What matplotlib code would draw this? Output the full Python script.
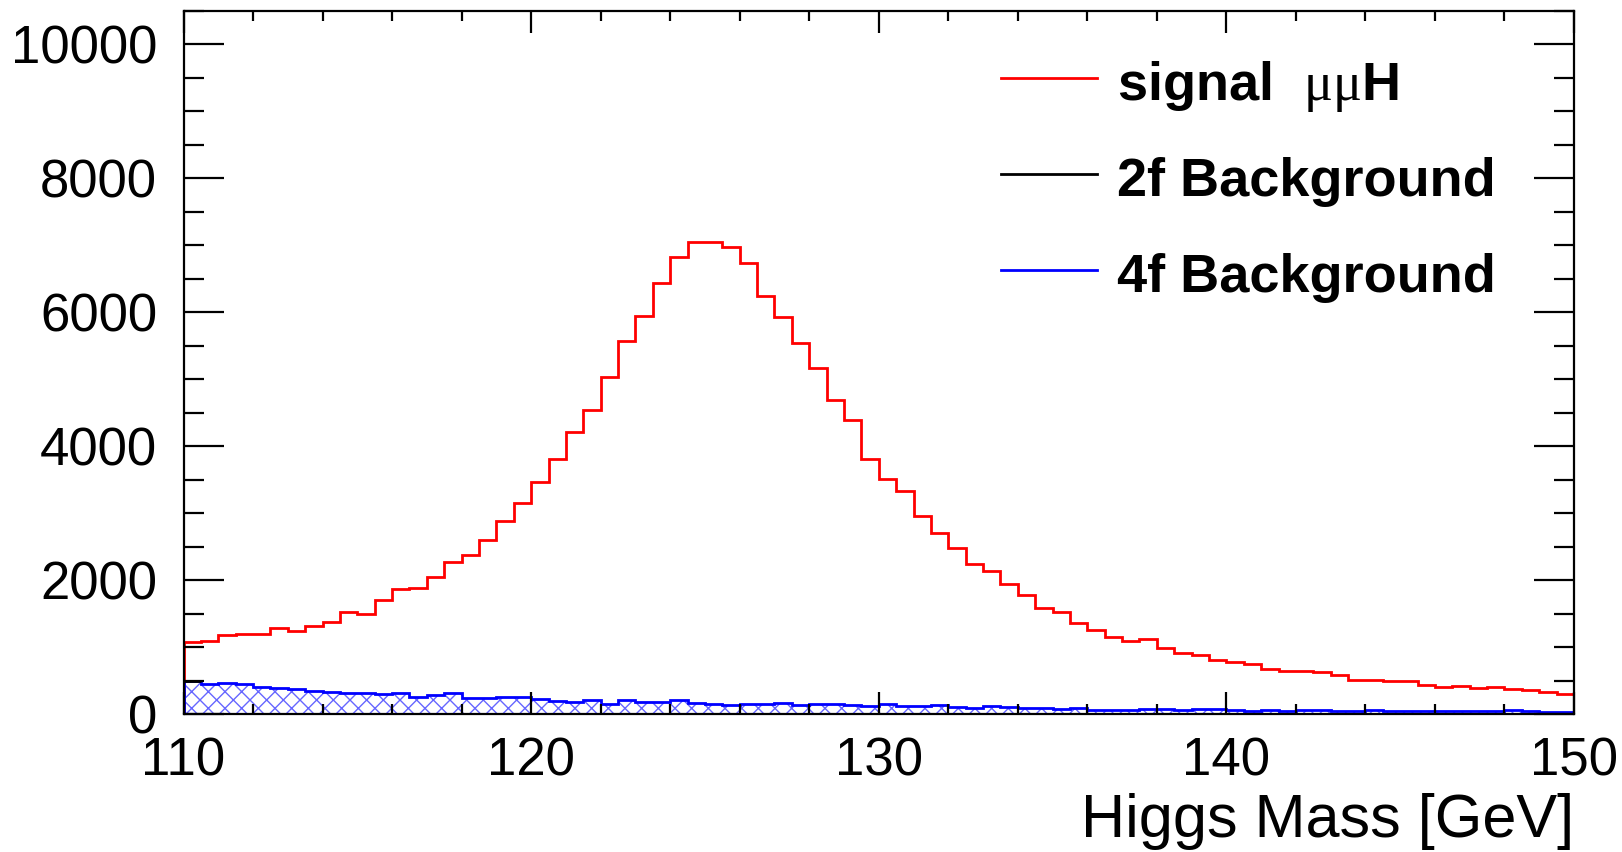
import numpy as np
import matplotlib.pyplot as plt
from matplotlib.ticker import MultipleLocator

# ROOT-like look: Helvetica -> Liberation Sans, Symbol greek -> Liberation Serif
plt.rcParams['font.family'] = 'Liberation Sans'
plt.rcParams['mathtext.fontset'] = 'custom'
plt.rcParams['mathtext.rm'] = 'Liberation Serif'
plt.rcParams['hatch.linewidth'] = 1.0

# Binning: 80 bins of 0.5 GeV between 110 and 150
M_LO, M_HI, N_BINS = 110, 150, 80
edges = np.linspace(M_LO, M_HI, N_BINS + 1)

signal_mumuH = [
    1075, 1095, 1180, 1190, 1190, 1285, 1235, 1320, 1380, 1525,
    1490, 1705, 1870, 1885, 2045, 2275, 2380, 2595, 2880, 3145,
    3460, 3810, 4215, 4535, 5035, 5570, 5950, 6430, 6830, 7055,
    7055, 6980, 6740, 6240, 5935, 5545, 5170, 4695, 4385, 3810,
    3510, 3335, 2960, 2700, 2475, 2240, 2130, 1945, 1780, 1580,
    1530, 1360, 1260, 1145, 1085, 1120, 985, 915, 885, 800,
    775, 745, 675, 645, 645, 620, 585, 515, 515, 500,
    500, 440, 410, 425, 395, 405, 380, 360, 325, 305,
]

bkg_4f = [
    490, 448, 458, 448, 408, 389, 369, 349, 334, 319,
    319, 294, 309, 254, 289, 314, 239, 239, 254, 254,
    219, 194, 174, 204, 154, 204, 174, 174, 204, 159,
    149, 134, 149, 149, 159, 139, 149, 149, 129, 125,
    145, 124, 115, 139, 100, 90, 120, 110, 90, 90,
    75, 95, 60, 60, 60, 75, 70, 60, 75, 75,
    60, 50, 60, 45, 60, 60, 50, 50, 60, 50,
    45, 45, 45, 45, 45, 50, 60, 45, 35, 35,
]

bkg_2f = [490] + [0] * (N_BINS - 1)

legend_labels = ['signal  $\\mathrm{\\mu\\mu}$H', '2f Background', '4f Background']
legend_colors = ['red', 'black', 'blue']

W, H = 1622, 852
fig = plt.figure(figsize=(W / 100, H / 100), dpi=100)
ax = fig.add_axes([183.5 / W, 1 - 714 / H, 1390.5 / W, 703 / H])

# histograms
ax.stairs(signal_mumuH, edges, color='red', linewidth=2.0)
ax.stairs(bkg_4f, edges, fill=True, facecolor='none', edgecolor=(0.4, 0.4, 1.0),
          hatch='xx', linewidth=0)
ax.stairs(bkg_4f, edges, color='blue', linewidth=2.0)
# 2f only shows as bin tops
ax.hlines(bkg_2f, edges[:-1], edges[1:], color='black', linewidth=2.0)

ax.set_xlim(M_LO, M_HI)
ax.set_ylim(0, 10500)

ax.xaxis.set_major_locator(MultipleLocator(10))
ax.xaxis.set_minor_locator(MultipleLocator(2))
ax.yaxis.set_major_locator(MultipleLocator(2000))
ax.yaxis.set_minor_locator(MultipleLocator(500))

ax.tick_params(which='both', direction='in', top=True, right=True, width=1.6, labelsize=38)
ax.tick_params(axis='x', which='major', length=16, pad=16)
ax.tick_params(axis='x', which='minor', length=7.5)
ax.tick_params(axis='y', which='major', length=29, pad=19)
ax.tick_params(axis='y', which='minor', length=14.5)
for sp in ax.spines.values():
    sp.set_linewidth(1.6)

ax.set_xlabel('Higgs Mass [GeV]', fontsize=44, ha='right')
ax.xaxis.set_label_coords(1.0, -0.112)

# legend, ROOT TLegend style without box
line_y = [0.905, 0.768, 0.632]
text_y = [0.874, 0.7375, 0.6007]
for lab, col, ly, ty in zip(legend_labels, legend_colors, line_y, text_y):
    ax.plot([0.588, 0.657], [ly, ly], color=col, linewidth=2.0, transform=ax.transAxes)
    ax.text(0.671, ty, lab, transform=ax.transAxes, fontsize=39, fontweight='bold',
            va='baseline', ha='left')

fig.savefig('out.png', dpi=100)
